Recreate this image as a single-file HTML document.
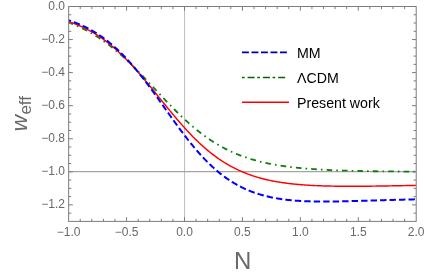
<!DOCTYPE html>
<html><head><meta charset="utf-8"><title>w_eff plot</title>
<style>
html,body{margin:0;padding:0;background:#fff;}
body{width:427px;height:273px;overflow:hidden;font-family:"Liberation Sans",sans-serif;}
svg{display:block;will-change:transform;}
text{font-family:"Liberation Sans",sans-serif;}
.t{font-size:12px;fill:#696969;}
.a{font-size:24px;fill:#696969;}
.l{font-size:14.2px;fill:#000;}
</style></head>
<body>
<svg width="427" height="273" viewBox="0 0 427 273">
<defs><clipPath id="c"><rect x="68.65" y="6.5" width="347.55" height="214.90"/></clipPath></defs>
<rect width="427" height="273" fill="#ffffff"/>
<line x1="184.55" y1="6.5" x2="184.55" y2="221.4" stroke="#bcbcbc" stroke-width="1"/>
<line x1="68.65" y1="171.6" x2="416.2" y2="171.6" stroke="#a4a4a4" stroke-width="1.2"/>
<g clip-path="url(#c)" fill="none" stroke-width="1.8">
<path d="M68.65 22.45 L69.65 22.82 L70.64 23.21 L71.64 23.60 L72.63 24.00 L73.63 24.41 L74.63 24.82 L75.62 25.25 L76.62 25.68 L77.61 26.12 L78.61 26.57 L79.60 27.03 L80.60 27.50 L81.60 27.97 L82.59 28.46 L83.59 28.96 L84.58 29.46 L85.58 29.98 L86.58 30.50 L87.57 31.03 L88.57 31.58 L89.56 32.13 L90.56 32.70 L91.55 33.27 L92.55 33.85 L93.55 34.45 L94.54 35.05 L95.54 35.66 L96.53 36.29 L97.53 36.92 L98.53 37.57 L99.52 38.23 L100.52 38.89 L101.51 39.57 L102.51 40.26 L103.50 40.95 L104.50 41.66 L105.50 42.38 L106.49 43.11 L107.49 43.85 L108.48 44.60 L109.48 45.36 L110.48 46.14 L111.47 46.92 L112.47 47.71 L113.46 48.51 L114.46 49.33 L115.45 50.15 L116.45 50.98 L117.45 51.83 L118.44 52.68 L119.44 53.54 L120.43 54.42 L121.43 55.30 L122.43 56.19 L123.42 57.09 L124.42 58.00 L125.41 58.92 L126.41 59.85 L127.40 60.78 L128.40 61.73 L129.40 62.68 L130.39 63.64 L131.39 64.61 L132.38 65.58 L133.38 66.57 L134.38 67.56 L135.37 68.55 L136.37 69.55 L137.36 70.56 L138.36 71.58 L139.36 72.60 L140.35 73.62 L141.35 74.65 L142.34 75.69 L143.34 76.73 L144.33 77.77 L145.33 78.82 L146.33 79.87 L147.32 80.93 L148.32 81.98 L149.31 83.04 L150.31 84.10 L151.31 85.16 L152.30 86.23 L153.30 87.29 L154.29 88.36 L155.29 89.42 L156.28 90.49 L157.28 91.55 L158.28 92.62 L159.27 93.68 L160.27 94.74 L161.26 95.80 L162.26 96.86 L163.26 97.92 L164.25 98.97 L165.25 100.02 L166.24 101.06 L167.24 102.11 L168.23 103.14 L169.23 104.18 L170.23 105.20 L171.22 106.23 L172.22 107.24 L173.21 108.26 L174.21 109.26 L175.21 110.26 L176.20 111.25 L177.20 112.24 L178.19 113.22 L179.19 114.19 L180.18 115.15 L181.18 116.11 L182.18 117.06 L183.17 118.00 L184.17 118.93 L185.16 119.85 L186.16 120.77 L187.16 121.67 L188.15 122.57 L189.15 123.46 L190.14 124.33 L191.14 125.20 L192.13 126.06 L193.13 126.91 L194.13 127.75 L195.12 128.58 L196.12 129.39 L197.11 130.20 L198.11 131.00 L199.11 131.79 L200.10 132.56 L201.10 133.33 L202.09 134.09 L203.09 134.83 L204.08 135.57 L205.08 136.29 L206.08 137.01 L207.07 137.71 L208.07 138.40 L209.06 139.08 L210.06 139.75 L211.06 140.42 L212.05 141.07 L213.05 141.71 L214.04 142.34 L215.04 142.96 L216.04 143.56 L217.03 144.16 L218.03 144.75 L219.02 145.33 L220.02 145.90 L221.01 146.46 L222.01 147.01 L223.01 147.54 L224.00 148.07 L225.00 148.59 L225.99 149.10 L226.99 149.60 L227.99 150.09 L228.98 150.58 L229.98 151.05 L230.97 151.51 L231.97 151.97 L232.96 152.41 L233.96 152.85 L234.96 153.28 L235.95 153.70 L236.95 154.11 L237.94 154.51 L238.94 154.91 L239.94 155.30 L240.93 155.68 L241.93 156.05 L242.92 156.41 L243.92 156.77 L244.91 157.12 L245.91 157.46 L246.91 157.79 L247.90 158.12 L248.90 158.44 L249.89 158.75 L250.89 159.06 L251.89 159.36 L252.88 159.65 L253.88 159.94 L254.87 160.22 L255.87 160.50 L256.86 160.77 L257.86 161.03 L258.86 161.28 L259.85 161.54 L260.85 161.78 L261.84 162.02 L262.84 162.26 L263.84 162.49 L264.83 162.71 L265.83 162.93 L266.82 163.14 L267.82 163.35 L268.81 163.56 L269.81 163.76 L270.81 163.95 L271.80 164.14 L272.80 164.33 L273.79 164.51 L274.79 164.69 L275.79 164.86 L276.78 165.03 L277.78 165.20 L278.77 165.36 L279.77 165.52 L280.77 165.67 L281.76 165.82 L282.76 165.97 L283.75 166.11 L284.75 166.25 L285.74 166.39 L286.74 166.52 L287.74 166.65 L288.73 166.78 L289.73 166.90 L290.72 167.03 L291.72 167.14 L292.72 167.26 L293.71 167.37 L294.71 167.48 L295.70 167.59 L296.70 167.69 L297.69 167.80 L298.69 167.90 L299.69 167.99 L300.68 168.09 L301.68 168.18 L302.67 168.27 L303.67 168.36 L304.67 168.45 L305.66 168.53 L306.66 168.61 L307.65 168.69 L308.65 168.77 L309.64 168.85 L310.64 168.92 L311.64 168.99 L312.63 169.06 L313.63 169.13 L314.62 169.20 L315.62 169.26 L316.62 169.33 L317.61 169.39 L318.61 169.45 L319.60 169.51 L320.60 169.57 L321.59 169.62 L322.59 169.68 L323.59 169.73 L324.58 169.78 L325.58 169.83 L326.57 169.88 L327.57 169.93 L328.57 169.98 L329.56 170.03 L330.56 170.07 L331.55 170.11 L332.55 170.16 L333.54 170.20 L334.54 170.24 L335.54 170.28 L336.53 170.32 L337.53 170.36 L338.52 170.39 L339.52 170.43 L340.52 170.46 L341.51 170.50 L342.51 170.53 L343.50 170.56 L344.50 170.59 L345.49 170.62 L346.49 170.65 L347.49 170.68 L348.48 170.71 L349.48 170.74 L350.47 170.77 L351.47 170.79 L352.47 170.82 L353.46 170.84 L354.46 170.87 L355.45 170.89 L356.45 170.91 L357.45 170.94 L358.44 170.96 L359.44 170.98 L360.43 171.00 L361.43 171.02 L362.42 171.04 L363.42 171.06 L364.42 171.08 L365.41 171.10 L366.41 171.12 L367.40 171.13 L368.40 171.15 L369.40 171.17 L370.39 171.18 L371.39 171.20 L372.38 171.22 L373.38 171.23 L374.37 171.25 L375.37 171.26 L376.37 171.27 L377.36 171.29 L378.36 171.30 L379.35 171.31 L380.35 171.33 L381.35 171.34 L382.34 171.35 L383.34 171.36 L384.33 171.37 L385.33 171.38 L386.32 171.39 L387.32 171.41 L388.32 171.42 L389.31 171.43 L390.31 171.43 L391.30 171.44 L392.30 171.45 L393.30 171.46 L394.29 171.47 L395.29 171.48 L396.28 171.49 L397.28 171.50 L398.27 171.50 L399.27 171.51 L400.27 171.52 L401.26 171.53 L402.26 171.53 L403.25 171.54 L404.25 171.55 L405.25 171.55 L406.24 171.56 L407.24 171.57 L408.23 171.57 L409.23 171.58 L410.22 171.58 L411.22 171.59 L412.22 171.60 L413.21 171.60 L414.21 171.61 L415.20 171.61 L416.20 171.62" stroke="#0f7d0f" stroke-dasharray="1.6 4.1 5.6 4.1" stroke-dashoffset="6.5"/>
<path d="M68.65 21.66 L69.65 21.98 L70.64 22.32 L71.64 22.66 L72.63 23.01 L73.63 23.37 L74.63 23.74 L75.62 24.13 L76.62 24.52 L77.61 24.92 L78.61 25.33 L79.60 25.76 L80.60 26.19 L81.60 26.64 L82.59 27.09 L83.59 27.56 L84.58 28.04 L85.58 28.53 L86.58 29.03 L87.57 29.54 L88.57 30.07 L89.56 30.61 L90.56 31.16 L91.55 31.72 L92.55 32.29 L93.55 32.88 L94.54 33.47 L95.54 34.09 L96.53 34.71 L97.53 35.35 L98.53 35.99 L99.52 36.66 L100.52 37.33 L101.51 38.02 L102.51 38.72 L103.50 39.44 L104.50 40.16 L105.50 40.90 L106.49 41.66 L107.49 42.42 L108.48 43.20 L109.48 44.00 L110.48 44.81 L111.47 45.63 L112.47 46.46 L113.46 47.31 L114.46 48.17 L115.45 49.04 L116.45 49.92 L117.45 50.82 L118.44 51.74 L119.44 52.66 L120.43 53.60 L121.43 54.55 L122.43 55.51 L123.42 56.48 L124.42 57.47 L125.41 58.47 L126.41 59.48 L127.40 60.50 L128.40 61.54 L129.40 62.58 L130.39 63.64 L131.39 64.70 L132.38 65.78 L133.38 66.87 L134.38 67.96 L135.37 69.07 L136.37 70.19 L137.36 71.31 L138.36 72.45 L139.36 73.59 L140.35 74.74 L141.35 75.90 L142.34 77.06 L143.34 78.24 L144.33 79.42 L145.33 80.60 L146.33 81.79 L147.32 82.99 L148.32 84.19 L149.31 85.40 L150.31 86.61 L151.31 87.83 L152.30 89.05 L153.30 90.27 L154.29 91.50 L155.29 92.72 L156.28 93.95 L157.28 95.18 L158.28 96.42 L159.27 97.65 L160.27 98.88 L161.26 100.11 L162.26 101.34 L163.26 102.57 L164.25 103.80 L165.25 105.02 L166.24 106.25 L167.24 107.47 L168.23 108.68 L169.23 109.90 L170.23 111.10 L171.22 112.31 L172.22 113.51 L173.21 114.70 L174.21 115.89 L175.21 117.07 L176.20 118.24 L177.20 119.41 L178.19 120.57 L179.19 121.72 L180.18 122.87 L181.18 124.01 L182.18 125.13 L183.17 126.25 L184.17 127.36 L185.16 128.46 L186.16 129.55 L187.16 130.63 L188.15 131.70 L189.15 132.76 L190.14 133.81 L191.14 134.85 L192.13 135.88 L193.13 136.90 L194.13 137.90 L195.12 138.89 L196.12 139.87 L197.11 140.84 L198.11 141.80 L199.11 142.74 L200.10 143.68 L201.10 144.60 L202.09 145.50 L203.09 146.40 L204.08 147.28 L205.08 148.15 L206.08 149.01 L207.07 149.85 L208.07 150.68 L209.06 151.50 L210.06 152.31 L211.06 153.10 L212.05 153.88 L213.05 154.65 L214.04 155.40 L215.04 156.14 L216.04 156.87 L217.03 157.59 L218.03 158.29 L219.02 158.99 L220.02 159.67 L221.01 160.33 L222.01 160.99 L223.01 161.63 L224.00 162.26 L225.00 162.88 L225.99 163.48 L226.99 164.08 L227.99 164.66 L228.98 165.23 L229.98 165.79 L230.97 166.34 L231.97 166.88 L232.96 167.41 L233.96 167.92 L234.96 168.43 L235.95 168.92 L236.95 169.40 L237.94 169.88 L238.94 170.34 L239.94 170.79 L240.93 171.23 L241.93 171.67 L242.92 172.09 L243.92 172.50 L244.91 172.91 L245.91 173.30 L246.91 173.69 L247.90 174.06 L248.90 174.43 L249.89 174.79 L250.89 175.14 L251.89 175.48 L252.88 175.82 L253.88 176.14 L254.87 176.46 L255.87 176.77 L256.86 177.07 L257.86 177.37 L258.86 177.65 L259.85 177.93 L260.85 178.21 L261.84 178.47 L262.84 178.73 L263.84 178.98 L264.83 179.23 L265.83 179.47 L266.82 179.70 L267.82 179.93 L268.81 180.15 L269.81 180.37 L270.81 180.57 L271.80 180.78 L272.80 180.98 L273.79 181.17 L274.79 181.35 L275.79 181.54 L276.78 181.71 L277.78 181.88 L278.77 182.05 L279.77 182.21 L280.77 182.37 L281.76 182.52 L282.76 182.67 L283.75 182.81 L284.75 182.95 L285.74 183.09 L286.74 183.22 L287.74 183.35 L288.73 183.47 L289.73 183.59 L290.72 183.70 L291.72 183.82 L292.72 183.93 L293.71 184.03 L294.71 184.13 L295.70 184.23 L296.70 184.32 L297.69 184.42 L298.69 184.50 L299.69 184.59 L300.68 184.67 L301.68 184.75 L302.67 184.83 L303.67 184.90 L304.67 184.98 L305.66 185.05 L306.66 185.11 L307.65 185.18 L308.65 185.24 L309.64 185.30 L310.64 185.35 L311.64 185.41 L312.63 185.46 L313.63 185.51 L314.62 185.56 L315.62 185.61 L316.62 185.65 L317.61 185.69 L318.61 185.73 L319.60 185.77 L320.60 185.81 L321.59 185.84 L322.59 185.88 L323.59 185.91 L324.58 185.94 L325.58 185.97 L326.57 186.00 L327.57 186.02 L328.57 186.05 L329.56 186.07 L330.56 186.09 L331.55 186.11 L332.55 186.13 L333.54 186.15 L334.54 186.16 L335.54 186.18 L336.53 186.19 L337.53 186.21 L338.52 186.22 L339.52 186.23 L340.52 186.24 L341.51 186.25 L342.51 186.25 L343.50 186.26 L344.50 186.27 L345.49 186.27 L346.49 186.28 L347.49 186.28 L348.48 186.28 L349.48 186.28 L350.47 186.28 L351.47 186.28 L352.47 186.28 L353.46 186.28 L354.46 186.28 L355.45 186.28 L356.45 186.27 L357.45 186.27 L358.44 186.27 L359.44 186.26 L360.43 186.25 L361.43 186.25 L362.42 186.24 L363.42 186.23 L364.42 186.23 L365.41 186.22 L366.41 186.21 L367.40 186.20 L368.40 186.19 L369.40 186.18 L370.39 186.17 L371.39 186.16 L372.38 186.14 L373.38 186.13 L374.37 186.12 L375.37 186.11 L376.37 186.09 L377.36 186.08 L378.36 186.07 L379.35 186.05 L380.35 186.04 L381.35 186.02 L382.34 186.01 L383.34 185.99 L384.33 185.98 L385.33 185.96 L386.32 185.94 L387.32 185.93 L388.32 185.91 L389.31 185.90 L390.31 185.88 L391.30 185.86 L392.30 185.84 L393.30 185.83 L394.29 185.81 L395.29 185.79 L396.28 185.77 L397.28 185.75 L398.27 185.73 L399.27 185.72 L400.27 185.70 L401.26 185.68 L402.26 185.66 L403.25 185.64 L404.25 185.62 L405.25 185.60 L406.24 185.58 L407.24 185.56 L408.23 185.54 L409.23 185.52 L410.22 185.50 L411.22 185.48 L412.22 185.46 L413.21 185.44 L414.21 185.42 L415.20 185.40 L416.20 185.38" stroke="#ff0000" stroke-width="1.45"/>
<path d="M68.65 20.26 L69.65 20.59 L70.64 20.94 L71.64 21.29 L72.63 21.65 L73.63 22.02 L74.63 22.40 L75.62 22.78 L76.62 23.18 L77.61 23.58 L78.61 24.00 L79.60 24.43 L80.60 24.86 L81.60 25.31 L82.59 25.76 L83.59 26.23 L84.58 26.71 L85.58 27.20 L86.58 27.70 L87.57 28.21 L88.57 28.73 L89.56 29.26 L90.56 29.81 L91.55 30.37 L92.55 30.94 L93.55 31.52 L94.54 32.11 L95.54 32.72 L96.53 33.34 L97.53 33.98 L98.53 34.62 L99.52 35.28 L100.52 35.96 L101.51 36.65 L102.51 37.35 L103.50 38.06 L104.50 38.79 L105.50 39.54 L106.49 40.29 L107.49 41.07 L108.48 41.85 L109.48 42.66 L110.48 43.47 L111.47 44.30 L112.47 45.15 L113.46 46.01 L114.46 46.89 L115.45 47.78 L116.45 48.69 L117.45 49.61 L118.44 50.55 L119.44 51.50 L120.43 52.46 L121.43 53.45 L122.43 54.44 L123.42 55.46 L124.42 56.48 L125.41 57.53 L126.41 58.58 L127.40 59.66 L128.40 60.74 L129.40 61.84 L130.39 62.96 L131.39 64.09 L132.38 65.23 L133.38 66.39 L134.38 67.56 L135.37 68.75 L136.37 69.94 L137.36 71.15 L138.36 72.38 L139.36 73.61 L140.35 74.86 L141.35 76.12 L142.34 77.39 L143.34 78.67 L144.33 79.96 L145.33 81.26 L146.33 82.58 L147.32 83.90 L148.32 85.23 L149.31 86.57 L150.31 87.91 L151.31 89.27 L152.30 90.63 L153.30 92.00 L154.29 93.37 L155.29 94.75 L156.28 96.14 L157.28 97.53 L158.28 98.92 L159.27 100.32 L160.27 101.72 L161.26 103.13 L162.26 104.53 L163.26 105.94 L164.25 107.35 L165.25 108.76 L166.24 110.17 L167.24 111.57 L168.23 112.98 L169.23 114.38 L170.23 115.79 L171.22 117.18 L172.22 118.58 L173.21 119.97 L174.21 121.36 L175.21 122.74 L176.20 124.11 L177.20 125.48 L178.19 126.85 L179.19 128.20 L180.18 129.55 L181.18 130.89 L182.18 132.22 L183.17 133.54 L184.17 134.86 L185.16 136.16 L186.16 137.45 L187.16 138.74 L188.15 140.01 L189.15 141.27 L190.14 142.51 L191.14 143.75 L192.13 144.97 L193.13 146.18 L194.13 147.38 L195.12 148.56 L196.12 149.74 L197.11 150.89 L198.11 152.03 L199.11 153.16 L200.10 154.28 L201.10 155.38 L202.09 156.46 L203.09 157.53 L204.08 158.58 L205.08 159.62 L206.08 160.65 L207.07 161.66 L208.07 162.65 L209.06 163.63 L210.06 164.59 L211.06 165.53 L212.05 166.46 L213.05 167.38 L214.04 168.28 L215.04 169.16 L216.04 170.03 L217.03 170.88 L218.03 171.72 L219.02 172.54 L220.02 173.35 L221.01 174.14 L222.01 174.91 L223.01 175.67 L224.00 176.42 L225.00 177.15 L225.99 177.86 L226.99 178.56 L227.99 179.25 L228.98 179.92 L229.98 180.57 L230.97 181.22 L231.97 181.84 L232.96 182.46 L233.96 183.06 L234.96 183.65 L235.95 184.22 L236.95 184.78 L237.94 185.33 L238.94 185.86 L239.94 186.38 L240.93 186.89 L241.93 187.39 L242.92 187.87 L243.92 188.35 L244.91 188.81 L245.91 189.25 L246.91 189.69 L247.90 190.12 L248.90 190.53 L249.89 190.94 L250.89 191.33 L251.89 191.71 L252.88 192.08 L253.88 192.45 L254.87 192.80 L255.87 193.14 L256.86 193.47 L257.86 193.80 L258.86 194.11 L259.85 194.41 L260.85 194.71 L261.84 195.00 L262.84 195.27 L263.84 195.54 L264.83 195.80 L265.83 196.06 L266.82 196.30 L267.82 196.54 L268.81 196.77 L269.81 196.99 L270.81 197.21 L271.80 197.42 L272.80 197.62 L273.79 197.81 L274.79 198.00 L275.79 198.18 L276.78 198.36 L277.78 198.52 L278.77 198.69 L279.77 198.84 L280.77 198.99 L281.76 199.14 L282.76 199.28 L283.75 199.41 L284.75 199.54 L285.74 199.66 L286.74 199.78 L287.74 199.89 L288.73 200.00 L289.73 200.11 L290.72 200.21 L291.72 200.30 L292.72 200.39 L293.71 200.48 L294.71 200.56 L295.70 200.64 L296.70 200.71 L297.69 200.78 L298.69 200.85 L299.69 200.91 L300.68 200.97 L301.68 201.03 L302.67 201.08 L303.67 201.13 L304.67 201.18 L305.66 201.22 L306.66 201.26 L307.65 201.30 L308.65 201.33 L309.64 201.36 L310.64 201.39 L311.64 201.42 L312.63 201.44 L313.63 201.46 L314.62 201.48 L315.62 201.50 L316.62 201.52 L317.61 201.53 L318.61 201.54 L319.60 201.55 L320.60 201.56 L321.59 201.56 L322.59 201.56 L323.59 201.57 L324.58 201.57 L325.58 201.56 L326.57 201.56 L327.57 201.56 L328.57 201.55 L329.56 201.54 L330.56 201.53 L331.55 201.52 L332.55 201.51 L333.54 201.50 L334.54 201.49 L335.54 201.47 L336.53 201.45 L337.53 201.44 L338.52 201.42 L339.52 201.40 L340.52 201.38 L341.51 201.36 L342.51 201.34 L343.50 201.32 L344.50 201.30 L345.49 201.27 L346.49 201.25 L347.49 201.23 L348.48 201.20 L349.48 201.17 L350.47 201.15 L351.47 201.12 L352.47 201.10 L353.46 201.07 L354.46 201.04 L355.45 201.01 L356.45 200.98 L357.45 200.96 L358.44 200.93 L359.44 200.90 L360.43 200.87 L361.43 200.84 L362.42 200.81 L363.42 200.78 L364.42 200.75 L365.41 200.72 L366.41 200.69 L367.40 200.66 L368.40 200.63 L369.40 200.60 L370.39 200.57 L371.39 200.54 L372.38 200.51 L373.38 200.48 L374.37 200.45 L375.37 200.42 L376.37 200.39 L377.36 200.36 L378.36 200.33 L379.35 200.30 L380.35 200.27 L381.35 200.24 L382.34 200.21 L383.34 200.18 L384.33 200.15 L385.33 200.12 L386.32 200.09 L387.32 200.06 L388.32 200.03 L389.31 200.00 L390.31 199.98 L391.30 199.95 L392.30 199.92 L393.30 199.89 L394.29 199.87 L395.29 199.84 L396.28 199.81 L397.28 199.78 L398.27 199.76 L399.27 199.73 L400.27 199.71 L401.26 199.68 L402.26 199.66 L403.25 199.63 L404.25 199.61 L405.25 199.58 L406.24 199.56 L407.24 199.53 L408.23 199.51 L409.23 199.48 L410.22 199.46 L411.22 199.44 L412.22 199.42 L413.21 199.39 L414.21 199.37 L415.20 199.35 L416.20 199.33" stroke="#0000ff" stroke-width="2" stroke-dasharray="6.4 3.08" stroke-dashoffset="3.9"/>
</g>
<path d="M80.23 221.4 v-2.6 M80.23 6.5 v2.6 M91.82 221.4 v-2.6 M91.82 6.5 v2.6 M103.41 221.4 v-2.6 M103.41 6.5 v2.6 M114.99 221.4 v-2.6 M114.99 6.5 v2.6 M126.57 221.4 v-4.2 M126.57 6.5 v4.2 M138.16 221.4 v-2.6 M138.16 6.5 v2.6 M149.75 221.4 v-2.6 M149.75 6.5 v2.6 M161.33 221.4 v-2.6 M161.33 6.5 v2.6 M172.91 221.4 v-2.6 M172.91 6.5 v2.6 M184.50 221.4 v-4.2 M184.50 6.5 v4.2 M196.08 221.4 v-2.6 M196.08 6.5 v2.6 M207.67 221.4 v-2.6 M207.67 6.5 v2.6 M219.25 221.4 v-2.6 M219.25 6.5 v2.6 M230.84 221.4 v-2.6 M230.84 6.5 v2.6 M242.42 221.4 v-4.2 M242.42 6.5 v4.2 M254.01 221.4 v-2.6 M254.01 6.5 v2.6 M265.60 221.4 v-2.6 M265.60 6.5 v2.6 M277.18 221.4 v-2.6 M277.18 6.5 v2.6 M288.76 221.4 v-2.6 M288.76 6.5 v2.6 M300.35 221.4 v-4.2 M300.35 6.5 v4.2 M311.93 221.4 v-2.6 M311.93 6.5 v2.6 M323.52 221.4 v-2.6 M323.52 6.5 v2.6 M335.11 221.4 v-2.6 M335.11 6.5 v2.6 M346.69 221.4 v-2.6 M346.69 6.5 v2.6 M358.27 221.4 v-4.2 M358.27 6.5 v4.2 M369.86 221.4 v-2.6 M369.86 6.5 v2.6 M381.44 221.4 v-2.6 M381.44 6.5 v2.6 M393.03 221.4 v-2.6 M393.03 6.5 v2.6 M404.62 221.4 v-2.6 M404.62 6.5 v2.6 M68.65 14.77 h2.6 M416.2 14.77 h-2.6 M68.65 23.03 h2.6 M416.2 23.03 h-2.6 M68.65 31.30 h2.6 M416.2 31.30 h-2.6 M68.65 39.56 h4.2 M416.2 39.56 h-4.2 M68.65 47.83 h2.6 M416.2 47.83 h-2.6 M68.65 56.09 h2.6 M416.2 56.09 h-2.6 M68.65 64.36 h2.6 M416.2 64.36 h-2.6 M68.65 72.62 h4.2 M416.2 72.62 h-4.2 M68.65 80.89 h2.6 M416.2 80.89 h-2.6 M68.65 89.15 h2.6 M416.2 89.15 h-2.6 M68.65 97.42 h2.6 M416.2 97.42 h-2.6 M68.65 105.68 h4.2 M416.2 105.68 h-4.2 M68.65 113.95 h2.6 M416.2 113.95 h-2.6 M68.65 122.22 h2.6 M416.2 122.22 h-2.6 M68.65 130.48 h2.6 M416.2 130.48 h-2.6 M68.65 138.75 h4.2 M416.2 138.75 h-4.2 M68.65 147.01 h2.6 M416.2 147.01 h-2.6 M68.65 155.28 h2.6 M416.2 155.28 h-2.6 M68.65 163.54 h2.6 M416.2 163.54 h-2.6 M68.65 171.81 h4.2 M416.2 171.81 h-4.2 M68.65 180.07 h2.6 M416.2 180.07 h-2.6 M68.65 188.34 h2.6 M416.2 188.34 h-2.6 M68.65 196.60 h2.6 M416.2 196.60 h-2.6 M68.65 204.87 h4.2 M416.2 204.87 h-4.2 M68.65 213.13 h2.6 M416.2 213.13 h-2.6" stroke="#7c7c7c" stroke-width="1" fill="none"/>
<rect x="68.65" y="6.5" width="347.55" height="214.90" fill="none" stroke="#7c7c7c" stroke-width="1"/>
<text x="68.65" y="236" text-anchor="middle" class="t">−1.0</text>
<text x="126.57" y="236" text-anchor="middle" class="t">−0.5</text>
<text x="184.50" y="236" text-anchor="middle" class="t">0.0</text>
<text x="242.42" y="236" text-anchor="middle" class="t">0.5</text>
<text x="300.35" y="236" text-anchor="middle" class="t">1.0</text>
<text x="358.27" y="236" text-anchor="middle" class="t">1.5</text>
<text x="416.20" y="236" text-anchor="middle" class="t">2.0</text>
<text x="65.0" y="9.70" text-anchor="end" class="t">0.0</text>
<text x="65.0" y="42.76" text-anchor="end" class="t">−0.2</text>
<text x="65.0" y="75.82" text-anchor="end" class="t">−0.4</text>
<text x="65.0" y="108.88" text-anchor="end" class="t">−0.6</text>
<text x="65.0" y="141.95" text-anchor="end" class="t">−0.8</text>
<text x="65.0" y="175.01" text-anchor="end" class="t">−1.0</text>
<text x="65.0" y="208.07" text-anchor="end" class="t">−1.2</text>
<text x="242.7" y="268.8" text-anchor="middle" class="a">N</text>
<text transform="translate(26.9 131.2) rotate(-90)" class="a" style="font-size:22.5px;font-style:italic">w</text>
<text transform="translate(31.4 114.6) rotate(-90)" class="a" style="font-size:17px">eff</text>
<g fill="none" stroke-width="1.5">
<path d="M242 52.4 H289" stroke="#0000a8" stroke-width="1.6" stroke-dasharray="6.9 2.6"/>
<path d="M242 77.4 H286" stroke="#006400" stroke-dasharray="2.6 3 7 2.7"/>
<path d="M242 102.3 H289" stroke="#ff0000"/>
</g>
<text x="297" y="58.1" class="l">MM</text>
<text x="297" y="83.1" class="l">ΛCDM</text>
<text x="297" y="108.1" class="l">Present work</text>
</svg>
</body></html>
